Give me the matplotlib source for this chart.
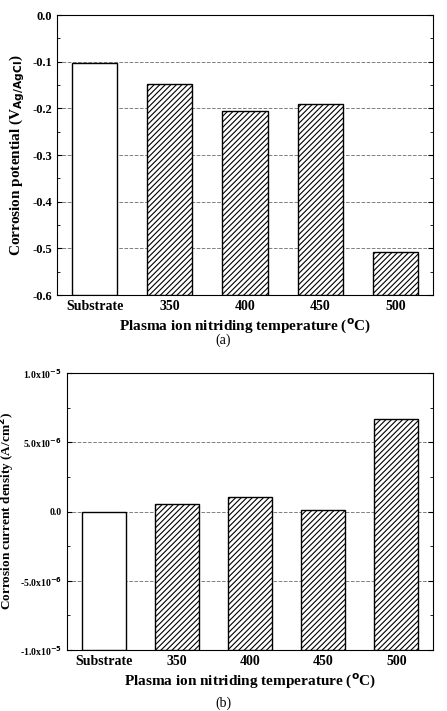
import matplotlib
matplotlib.use("Agg")
import matplotlib.pyplot as plt

cats = ["Substrate", "350", "400", "450", "500"]
potential = [-0.102, -0.148, -0.205, -0.19, -0.507]
current = [0.0, 0.52e-6, 1.05e-6, 0.08e-6, 6.65e-6]

plt.rcParams['font.family'] = ['Liberation Serif']
plt.rcParams['font.weight'] = 'bold'
plt.rcParams['hatch.linewidth'] = 0.8

fig = plt.figure(figsize=(4.47, 7.11), dpi=100)
W, H = 447, 711
ax1 = fig.add_axes([57/W, 1-295/H, 376/W, 280/H])
ax2 = fig.add_axes([67/W, 1-650/H, 366/W, 277/H])

def draw(ax, vals, bottom, top, ticks, labels, minor):
    x = range(len(cats))
    hatches = ["", "//////", "//////", "//////", "//////"]
    for i, v in enumerate(vals):
        ax.bar(i, v - bottom, bottom=bottom, width=0.6, facecolor="white",
               edgecolor="black", hatch=hatches[i], linewidth=1, zorder=3)
    ax.set_ylim(bottom, top)
    ax.set_xlim(-0.5, 4.5)
    ax.set_xticks(list(x))
    ax.set_xticklabels(cats, fontsize=10, fontweight='bold')
    ax.set_yticks(ticks)
    ax.set_yticklabels(labels, fontweight='bold')
    ax.set_yticks(minor, minor=True)
    for t in ticks[1:-1]:
        ax.axhline(t, color="gray", ls="--", lw=0.7, zorder=1)
    ax.tick_params(axis='y', which='both', right=True, direction='in')
    ax.tick_params(axis='x', length=0)
    ax.set_xlabel("Plasma ion nitriding temperature ($\\mathbf{^o}$C)", fontsize=11, fontweight='bold', labelpad=2)

pt = [-0.6, -0.5, -0.4, -0.3, -0.2, -0.1, 0.0]
draw(ax1, potential, -0.6, 0.0, pt, [f"{t:.1f}" for t in pt],
     [-0.55, -0.45, -0.35, -0.25, -0.15, -0.05])
ax1.tick_params(axis='y', labelsize=9)
ax1.set_ylabel("Corrosion potential (V$_{\\mathbf{Ag/AgCl}}$)", fontsize=11, fontweight='bold')

ct = [-1e-5, -5e-6, 0.0, 5e-6, 1e-5]
cl = ["-1.0x10$^{-5}$", "-5.0x10$^{-6}$", "0.0", "5.0x10$^{-6}$", "1.0x10$^{-5}$"]
draw(ax2, current, -1e-5, 1e-5, ct, cl, [-7.5e-6, -2.5e-6, 2.5e-6, 7.5e-6])
ax2.tick_params(axis='y', labelsize=7)
ax2.set_ylabel("Corrosion current density (A/cm$^{\\mathbf{2}}$)", fontsize=9.5, fontweight='bold', labelpad=2)

fig.text(0.5, 1-344/H, "(a)", ha='center', fontsize=10, fontweight='normal')
fig.text(0.5, 1-707/H, "(b)", ha='center', fontsize=10, fontweight='normal')

fig.savefig("out.png", dpi=100)
